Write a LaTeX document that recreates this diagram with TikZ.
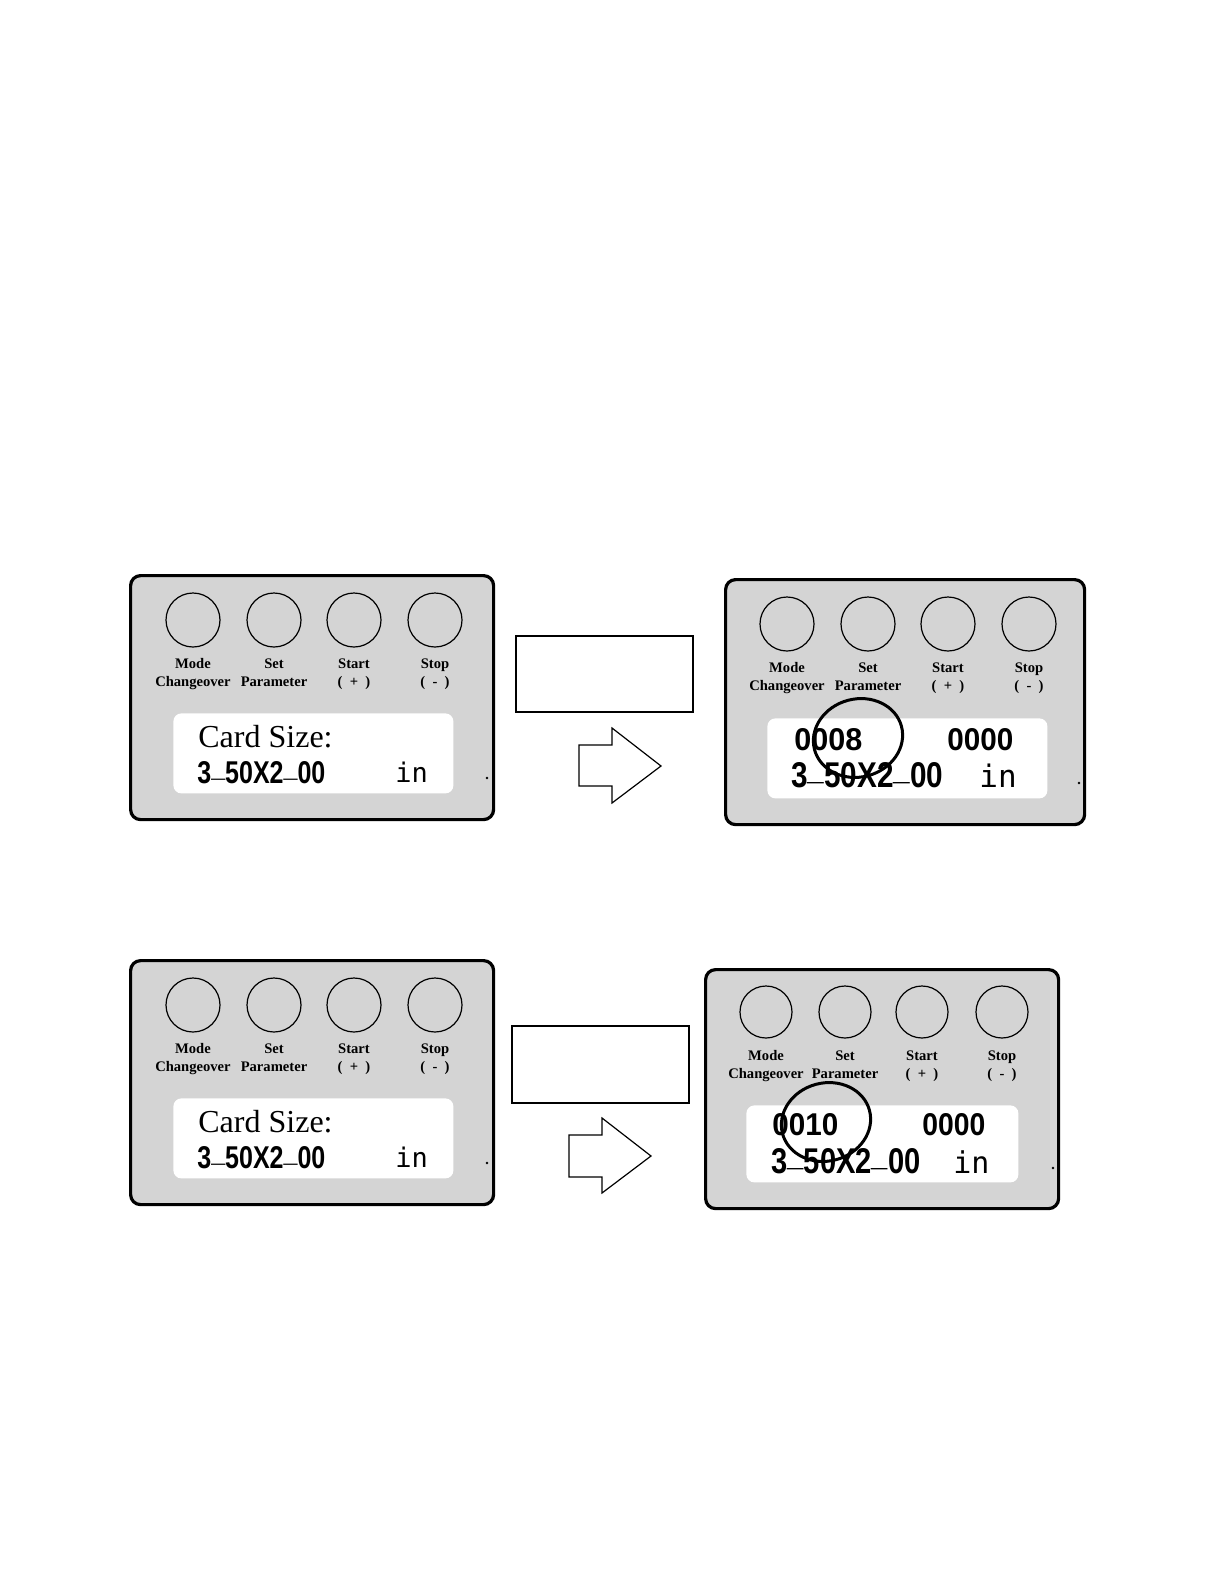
\documentclass[tikz,border=0pt]{standalone}
\usepackage{fontspec}
\setmainfont{Liberation Serif}
\newfontfamily\segfont{Liberation Sans}
\newfontfamily\unitfont{DejaVu Sans Mono}
\usetikzlibrary{shapes.geometric}
\definecolor{panelgray}{RGB}{212,212,212}
\newcommand\segu{\raisebox{0.2em}{\_}}
\tikzset{
  panel/.style={draw, line width=1.6pt, fill=panelgray, rounded corners=5pt, anchor=north west, inner sep=0pt},
  lcd/.style={fill=white, rounded corners=4pt, anchor=north west, inner sep=0pt},
  btn/.style={circle, draw, line width=0.6pt, inner sep=0pt, minimum size=27pt},
  lab/.style={font=\fontsize{7.3}{9}\selectfont\bfseries, anchor=base, inner sep=0pt},
  card/.style={font=\fontsize{16}{18}\selectfont, anchor=base west, inner sep=0pt},
  seg/.style={font=\segfont\bfseries, anchor=base west, inner sep=0pt},
  unit/.style={font=\unitfont\fontsize{13.5}{15}\selectfont, anchor=base west, inner sep=0pt},
  hl/.style={ellipse, draw, line width=1.5pt, inner sep=0pt, minimum width=45pt, minimum height=39pt, rotate=15},
  note/.style={draw, line width=1.2pt, inner sep=0pt, anchor=north west},
  bigarrow/.style={draw, line width=0.6pt, line join=miter, fill=white},
  dotmark/.style={fill=black, circle, inner sep=0pt, minimum size=1.4pt},
}
% #1 prefix, #2-#5 x positions, #6 y circles, #7 y first label line, #8 y second label line
\newcommand\mybtns[8]{%
  \node[btn] (#1b1) at (#2,#6) {};
  \node[btn] (#1b2) at (#3,#6) {};
  \node[btn] (#1b3) at (#4,#6) {};
  \node[btn] (#1b4) at (#5,#6) {};
  \node[lab] (#1l1a) at (#2,#7) {Mode};
  \node[lab] (#1l1b) at (#2,#8) {Changeover};
  \node[lab] (#1l2a) at (#3,#7) {Set};
  \node[lab] (#1l2b) at (#3,#8) {Parameter};
  \node[lab] (#1l3a) at (#4,#7) {Start};
  \node[lab] (#1l3b) at (#4,#8) {(\enspace+\enspace)};
  \node[lab] (#1l4a) at (#5,#7) {Stop};
  \node[lab] (#1l4b) at (#5,#8) {(\enspace-\enspace)};
}
\begin{document}
\begin{tikzpicture}[x=0.5pt,y=-0.5pt]
\useasboundingbox (0,0) rectangle (1224,1584);
\fill[white] (0,0) rectangle (1224,1584);

% ---------- Panel 1 (top left) ----------
\node[panel, minimum width=181.5pt, minimum height=122pt] (p1) at (129,574) {};
\mybtns{pa}{193}{274}{354}{435}{620}{668}{686}
\node[lcd, minimum width=140pt, minimum height=40pt] (lcd1) at (173,713) {};
\node[card] (c1) at (198,747) {Card Size:};
\node[seg] (s1) at (197,783) {\resizebox{64pt}{11pt}{3\segu 50X2\segu 00}};
\node[unit] (u1) at (395,782) {in};
\node[dotmark] (d1) at (487,778) {};

% ---------- Box and arrow 1 ----------
\node[note, minimum width=88.5pt, minimum height=38pt] (n1) at (515,635) {};
\draw[bigarrow] (579,745) coordinate (a1s) -- (612,745) -- (612,728) -- (661,766) coordinate (a1t) -- (612,803) -- (612,786) -- (579,786) -- cycle;

% ---------- Panel 2 (top right) ----------
\node[panel, minimum width=179.5pt, minimum height=122.5pt] (p2) at (724,578) {};
\mybtns{pb}{787}{868}{948}{1029}{624}{672}{690}
\node[lcd, minimum width=140pt, minimum height=40pt] (lcd2) at (767,718) {};
\node[seg] (t2a) at (794,750) {\resizebox{34pt}{11pt}{0008}};
\node[seg] (t2b) at (947,750) {\resizebox{33pt}{11pt}{0000}};
\node[seg] (s2) at (791,787) {\resizebox{76pt}{12.5pt}{3\segu 50X2\segu 00}};
\node[unit, font=\unitfont\fontsize{15.5}{17}\selectfont] (u2) at (979,787) {in};
\node[hl] (e1) at (858,738) {};
\node[dotmark] (d2) at (1079,783) {};

% ---------- Panel 3 (bottom left) ----------
\node[panel, minimum width=181.5pt, minimum height=122pt] (p3) at (129,959) {};
\mybtns{pc}{193}{274}{354}{435}{1005}{1053}{1071}
\node[lcd, minimum width=140pt, minimum height=40pt] (lcd3) at (173,1098) {};
\node[card] (c3) at (198,1132) {Card Size:};
\node[seg] (s3) at (197,1168) {\resizebox{64pt}{11pt}{3\segu 50X2\segu 00}};
\node[unit] (u3) at (395,1167) {in};
\node[dotmark] (d3) at (487,1163) {};

% ---------- Box and arrow 2 ----------
\node[note, minimum width=88.5pt, minimum height=38.5pt] (n2) at (511,1025) {};
\draw[bigarrow] (569,1135) coordinate (a2s) -- (602,1135) -- (602,1118) -- (651,1156) coordinate (a2t) -- (602,1193) -- (602,1177) -- (569,1177) -- cycle;

% ---------- Panel 4 (bottom right) ----------
\node[panel, minimum width=176.5pt, minimum height=119.5pt] (p4) at (704,968) {};
\begin{scope}[btn/.append style={minimum size=26pt}]
\mybtns{pd}{766}{845}{922}{1002}{1012}{1060}{1078}
\end{scope}
\node[lcd, minimum width=136pt, minimum height=38.5pt] (lcd4) at (746,1105) {};
\node[seg] (t4a) at (772,1135) {\resizebox{33pt}{11pt}{0010}};
\node[seg] (t4b) at (922,1135) {\resizebox{31.5pt}{11pt}{0000}};
\node[seg] (s4) at (771,1173) {\resizebox{74.5pt}{12.5pt}{3\segu 50X2\segu 00}};
\node[unit, font=\unitfont\fontsize{15}{17}\selectfont] (u4) at (953,1173) {in};
\node[hl] (e2) at (826,1122) {};
\node[dotmark] (d4) at (1053,1168) {};
\end{tikzpicture}
\end{document}
